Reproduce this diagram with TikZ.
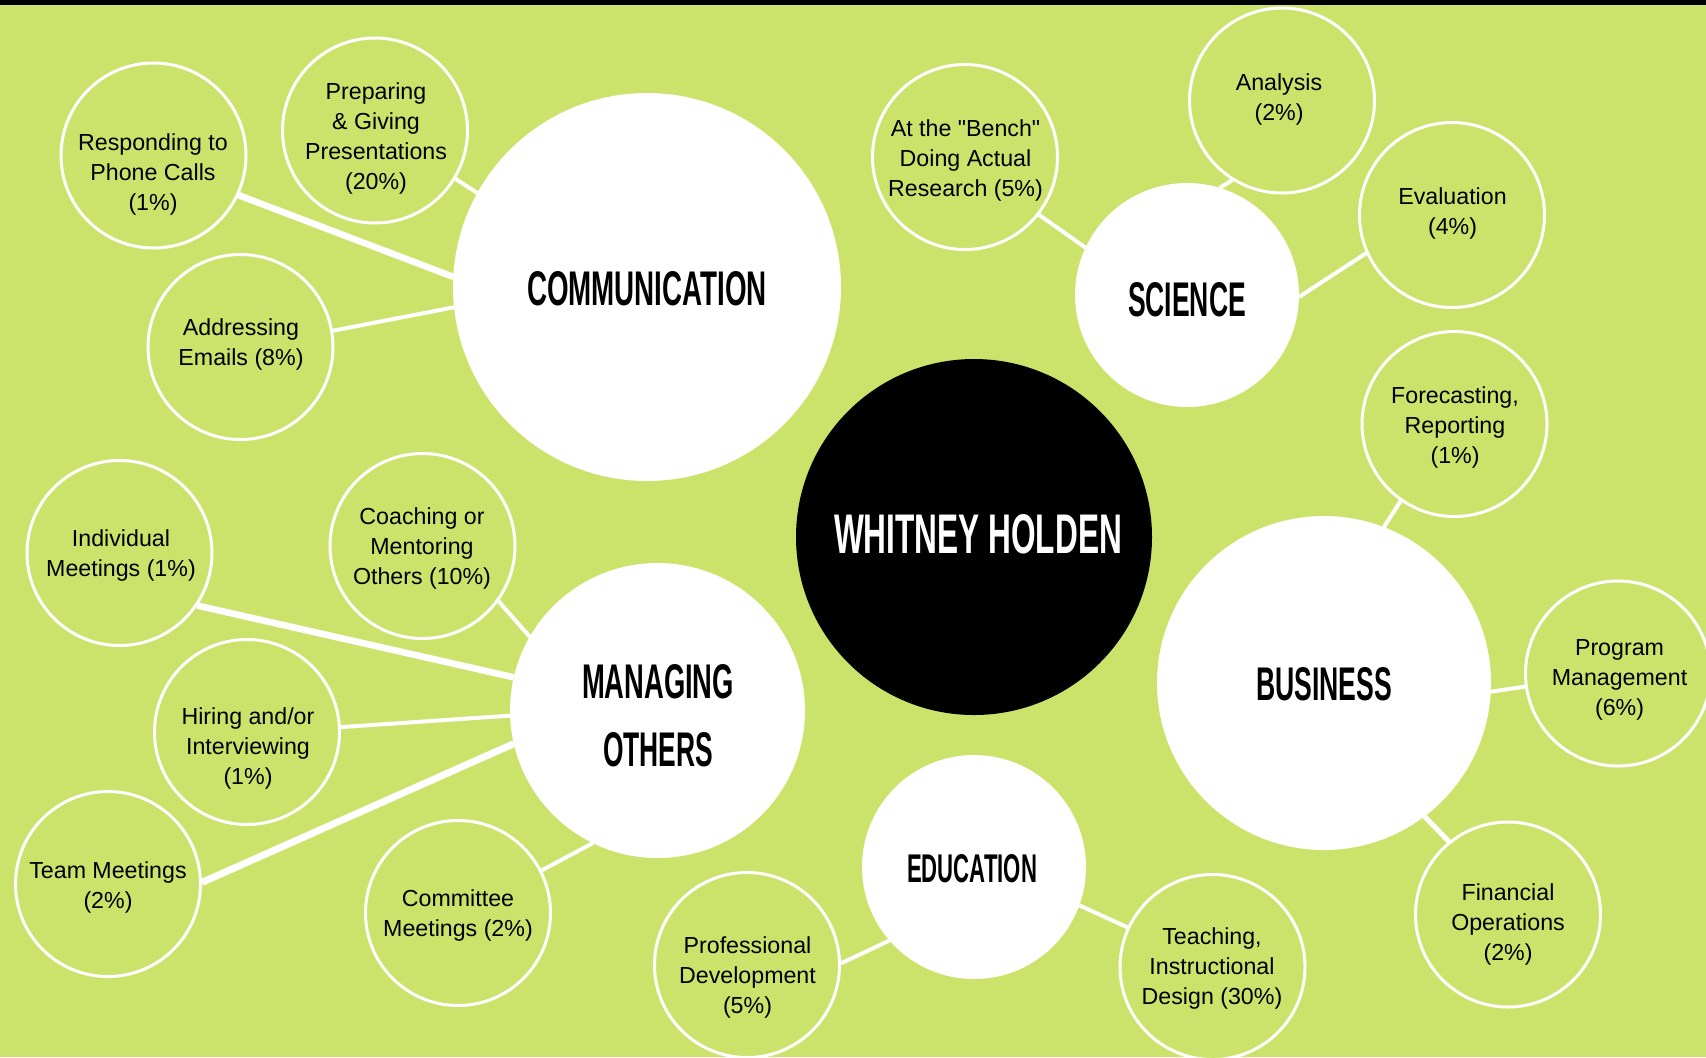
\documentclass[tikz,border=0pt]{standalone}
\usepackage{graphicx}
\usepackage{fontspec}
\setmainfont{Liberation Sans}
\newfontfamily\plainsans{Liberation Sans}
\usetikzlibrary{calc}
\definecolor{bg}{RGB}{203,227,106}
\newcommand{\headtxt}[3]{\resizebox{#1}{#2}{\bfseries #3}}
\begin{document}
\begin{tikzpicture}[x=0.5pt,y=-0.5pt,
  bigc/.style={circle,fill=white,inner sep=0pt,outer sep=0pt},
  smallc/.style={circle,draw=white,line width=1.5pt,fill=bg,minimum size=92.5pt,inner sep=0pt},
  lbl/.style={align=center,inner sep=0pt,font=\plainsans\fontsize{11.6pt}{15pt}\selectfont,text=black},
  head/.style={inner sep=0pt,text=black,align=center,font=\fontsize{20pt}{34pt}\selectfont},
  conn/.style={draw=white,line width=2pt},
  thickconn/.style={draw=white,line width=3.3pt}]
\useasboundingbox (0,0) rectangle (1706,1057);
\fill[bg] (0,0) rectangle (1706,1057);
\fill[black] (0,0) rectangle (1706,5);

% main circles
\node[bigc,minimum size=194pt] (comm) at (647,287) {};
\node[bigc,minimum size=112pt] (sci) at (1187,295) {};
\node[bigc,fill=black,minimum size=178pt] (whit) at (974,537) {};
\node[bigc,minimum size=167pt] (bus) at (1324,683) {};
\node[bigc,minimum size=147.5pt] (man) at (657.5,710.5) {};
\node[bigc,minimum size=112pt] (edu) at (974,867) {};

% main labels
\node[head] (comm-t) at (647,289) {\headtxt{120pt}{17pt}{COMMUNICATION}};
\node[head] (sci-t) at (1187,300) {\headtxt{59pt}{17pt}{SCIENCE}};
\node[head,text=white] (whit-t) at (978,534.5) {\headtxt{144pt}{19.5pt}{WHITNEY HOLDEN}};
\node[head] (bus-t) at (1324,684.5) {\headtxt{68pt}{16.5pt}{BUSINESS}};
\node[head] (man-t) at (658,716) {\headtxt{76pt}{17pt}{MANAGING}\\\headtxt{55pt}{17pt}{OTHERS}};
\node[head] (edu-t) at (972,869) {\headtxt{65pt}{14pt}{EDUCATION}};

% small circles
\node[smallc] (resp) at (153.5,155.5) {};
\node[smallc] (prep) at (375,130.5) {};
\node[smallc] (addr) at (240.5,347) {};
\node[smallc] (bench) at (965,157) {};
\node[smallc] (anal) at (1282,100.5) {};
\node[smallc] (eval) at (1452,215) {};
\node[smallc] (fore) at (1454.5,424) {};
\node[smallc] (prog) at (1618,673.5) {};
\node[smallc] (fin) at (1508,914.5) {};
\node[smallc] (indiv) at (119.5,553) {};
\node[smallc] (coach) at (422.5,546) {};
\node[smallc] (hire) at (247,732) {};
\node[smallc] (team) at (108,884) {};
\node[smallc] (comt) at (458,913) {};
\node[smallc] (prof) at (747,965) {};
\node[smallc] (teach) at (1212.5,967) {};

% small labels
\node[lbl] (resp-t) at (153,174) {Responding to\\Phone Calls\\(1\%)};
\node[lbl] (prep-t) at (376,138) {Preparing\\\& Giving\\Presentations\\(20\%)};
\node[lbl] (addr-t) at (241,344) {Addressing\\Emails (8\%)};
\node[lbl] (bench-t) at (965.5,160) {At the "Bench"\\Doing Actual\\Research (5\%)};
\node[lbl] (anal-t) at (1279,99.5) {Analysis\\(2\%)};
\node[lbl] (eval-t) at (1452.5,213.5) {Evaluation\\(4\%)};
\node[lbl] (fore-t) at (1455,427) {Forecasting,\\Reporting\\(1\%)};
\node[lbl] (prog-t) at (1619.5,680) {Program\\Management\\(6\%)};
\node[lbl] (fin-t) at (1508,924) {Financial\\Operations\\(2\%)};
\node[lbl] (indiv-t) at (121,555) {Individual\\Meetings (1\%)};
\node[lbl] (coach-t) at (422,548) {Coaching or\\Mentoring\\Others (10\%)};
\node[lbl] (hire-t) at (248,748) {Hiring and/or\\Interviewing\\(1\%)};
\node[lbl] (team-t) at (108,887) {Team Meetings\\(2\%)};
\node[lbl] (comt-t) at (458,915.5) {Committee\\Meetings (2\%)};
\node[lbl] (prof-t) at (747.5,977) {Professional\\Development\\(5\%)};
\node[lbl] (teach-t) at (1212,968.5) {Teaching,\\Instructional\\Design (30\%)};

% connectors
\draw[thickconn] (resp.-25.1) -- (comm.177);
\draw[conn] (prep.-31.9) -- (comm.151.3);
\draw[conn] (addr.10.8) -- (comm.186.5);
\draw[conn] (bench.-38.9) -- (sci.155.3);
\draw[conn] (anal.-122) -- (sci.73.8);
\draw[conn] (eval.-156.3) -- (sci.-1);
\draw[conn] (fore.-125.4) -- (bus.69.4);
\draw[conn] (prog.-172.8) -- (bus.-3.1);
\draw[conn,line width=2.5pt] (fin.129.1) -- (bus.-53.3);
\draw[thickconn] (indiv.-34.4) -- (man.167.2);
\draw[conn] (hire.3.6) -- (man.182.6);
\draw[thickconn,line width=3.5pt] (team.1.2) -- (man.193.2);
\draw[conn] (coach.-36) -- (man.150);
\draw[conn] (comt.27.8) -- (man.-116.8);
\draw[conn] (prof.1.2) -- (edu.-139.3);
\draw[conn] (teach.155.8) -- (edu.-20.9);
\end{tikzpicture}
\end{document}
